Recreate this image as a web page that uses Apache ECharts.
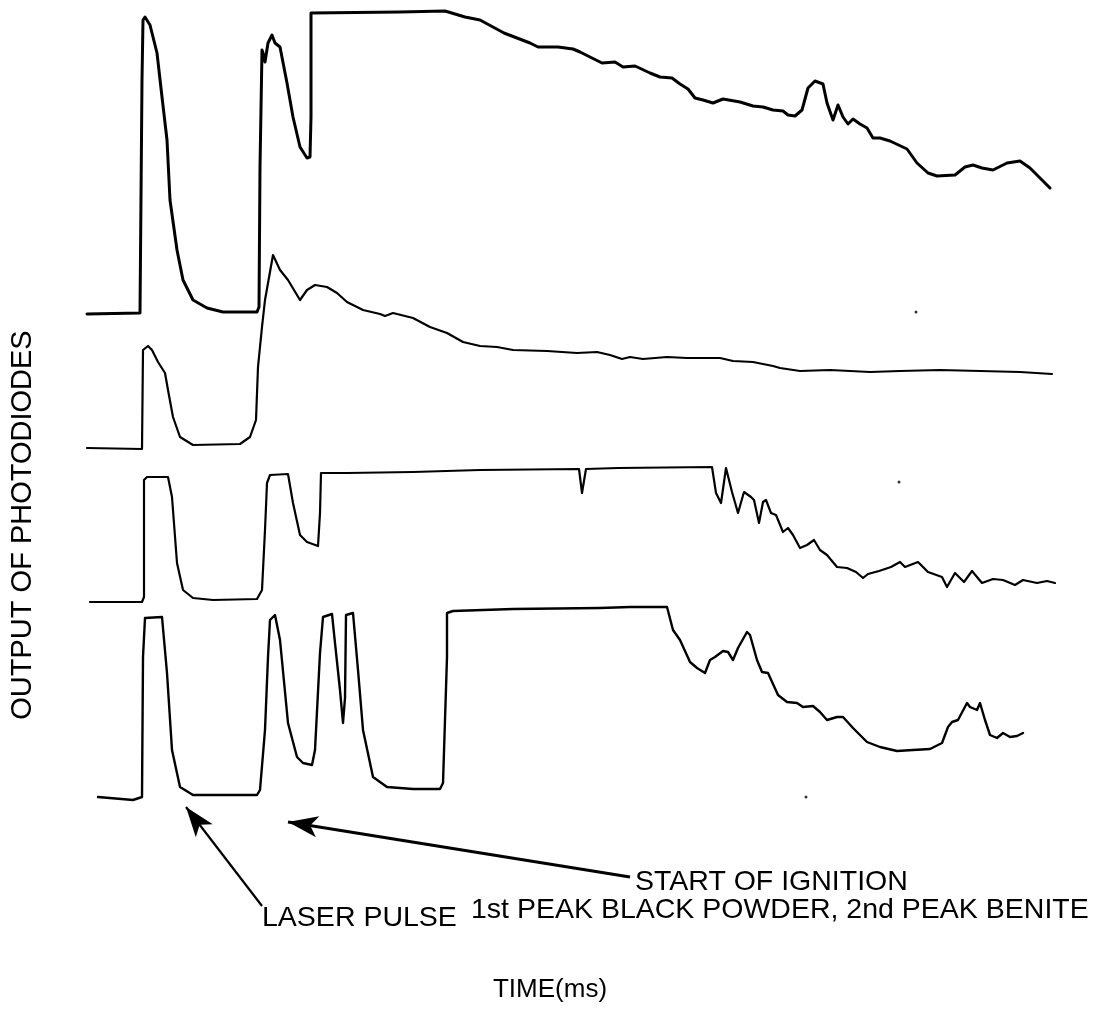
<!DOCTYPE html>
<html>
<head>
<meta charset="utf-8">
<title>Output of photodiodes</title>
<script src="https://cdn.jsdelivr.net/npm/echarts@6/dist/echarts.min.js"></script>
<style>
  html, body { margin: 0; padding: 0; background: #fff; }
  #main { width: 1099px; height: 1023px; }
</style>
</head>
<body>
<div id="main"></div>
<script>
const trace1 = [
  [7, -1], [60, 0], [62, 233], [63, 293], [65, 296], [70, 288], [72, 280], [77, 260], [82, 216],
  [87, 173], [90, 113], [97, 63], [103, 33], [113, 13], [127, 5], [143, 1], [177, 1], [179, 6],
  [180, 146], [182, 263], [183, 260], [185, 251], [188, 270], [192, 278], [195, 270], [200, 266],
  [207, 230], [213, 196], [220, 166], [227, 155], [230, 156], [231, 196], [231, 300], [320, 301],
  [365, 302], [385, 296], [400, 293], [424, 280], [450, 270], [458, 266], [478, 266], [493, 264],
  [500, 261], [510, 256], [522, 250], [535, 251], [543, 246], [555, 247], [570, 240], [580, 236],
  [592, 235], [600, 229], [608, 224], [615, 215], [623, 213], [633, 210], [643, 214], [660, 211],
  [673, 207], [683, 206], [693, 203], [703, 202], [708, 198], [715, 197], [722, 203], [728, 225],
  [735, 232], [743, 229], [747, 210], [753, 193], [758, 208], [763, 196], [768, 189], [773, 194],
  [780, 189], [787, 185], [793, 175], [800, 175], [810, 172], [827, 164], [837, 150], [848, 140],
  [857, 137], [875, 138], [885, 146], [893, 148], [902, 145], [913, 143], [927, 150], [940, 152],
  [950, 145], [960, 135], [970, 125]
];
const trace2 = [
  [7, 0], [62, -1], [63, 98], [68, 102], [72, 98], [78, 86], [85, 75], [88, 58], [93, 31],
  [100, 11], [113, 3], [160, 4], [170, 11], [176, 28], [178, 81], [182, 121], [185, 148],
  [193, 193], [200, 178], [208, 168], [220, 148], [227, 158], [235, 163], [247, 161], [257, 155],
  [267, 146], [283, 138], [300, 134], [305, 132], [313, 135], [333, 130], [350, 121], [367, 115],
  [383, 106], [400, 102], [417, 101], [433, 98], [467, 97], [497, 95], [517, 96], [530, 93],
  [542, 89], [550, 91], [563, 89], [587, 91], [607, 90], [640, 90], [653, 87], [673, 86],
  [693, 82], [700, 80], [720, 77], [750, 78], [790, 76], [820, 77], [860, 78], [900, 77],
  [940, 76], [972, 74]
];
const trace3 = [
  [10, -1], [62, -1], [64, 4], [64, 121], [67, 124], [88, 124], [92, 104], [97, 38], [103, 11],
  [113, 3], [133, 1], [177, 2], [182, 11], [185, 71], [187, 118], [190, 126], [208, 127],
  [213, 98], [220, 66], [227, 59], [238, 55], [240, 88], [241, 128], [267, 128], [333, 129],
  [400, 131], [499, 132], [502, 108], [506, 132], [538, 133], [632, 134], [636, 108], [641, 98],
  [646, 133], [652, 109], [658, 88], [664, 109], [671, 104], [674, 101], [679, 78], [683, 99],
  [686, 101], [691, 88], [696, 86], [703, 69], [708, 73], [713, 66], [720, 53], [727, 56],
  [734, 61], [740, 51], [747, 46], [757, 34], [767, 33], [776, 29], [783, 23], [788, 27],
  [799, 30], [811, 34], [820, 39], [825, 34], [838, 39], [848, 29], [862, 24], [867, 14],
  [875, 28], [884, 19], [892, 30], [902, 18], [913, 22], [923, 21], [935, 16], [943, 21],
  [957, 18], [967, 20], [975, 18]
];
const trace4 = [
  [18, 1], [53, -2], [62, 1], [63, 141], [65, 180], [82, 181], [87, 125], [92, 48], [100, 11],
  [113, 3], [177, 3], [180, 8], [185, 68], [188, 141], [190, 178], [195, 183], [200, 158],
  [208, 75], [217, 41], [223, 35], [232, 33], [235, 48], [240, 145], [243, 181], [252, 184],
  [255, 155], [260, 108], [263, 75], [265, 100], [266, 183], [273, 185], [278, 128], [283, 68],
  [293, 21], [307, 11], [320, 10], [333, 9], [360, 9], [363, 15], [367, 141], [367, 185],
  [373, 187], [433, 189], [520, 190], [550, 191], [587, 191], [593, 168], [600, 158], [610, 136],
  [617, 130], [625, 125], [630, 138], [635, 141], [643, 147], [648, 146], [653, 138], [658, 150],
  [667, 166], [670, 163], [677, 138], [682, 126], [688, 125], [698, 103], [707, 96], [717, 95],
  [723, 91], [733, 92], [740, 86], [747, 78], [757, 81], [763, 81], [773, 70], [787, 56],
  [800, 51], [817, 47], [833, 48], [850, 49], [862, 55], [868, 71], [872, 76], [878, 78],
  [887, 95], [890, 91], [897, 88], [900, 95], [905, 78], [910, 63], [917, 60], [923, 65],
  [930, 61], [937, 62], [943, 65]
];
// specks left on the original record
const specks = [[836, 498], [819, 328], [726, 13]];
// annotation arrows: [tail, tip]
const laserArrow = [[182, -96], [106, 3]];
const ignitionArrow = [[550, -67], [208, -12]];

const traces = [trace1, trace2, trace3, trace4];
const baseLevels = [497, 362, 209, 12];  // vertical stacking of the four traces
const lineWidths = [3, 2.2, 2.2, 2.4];

const chart = echarts.init(document.getElementById('main'));

const series = traces.map((tr, i) => ({
  type: 'line',
  data: tr.map(p => [p[0], p[1] + baseLevels[i]]),
  showSymbol: false,
  smooth: false,
  clip: false,
  silent: true,
  lineStyle: { color: '#000', width: lineWidths[i], cap: 'round', join: 'round' }
}));

series.push({
  type: 'scatter',
  data: specks,
  symbolSize: 3,
  silent: true,
  itemStyle: { color: '#000' },
  markLine: {
    silent: true,
    symbol: ['none', 'arrow'],
    symbolSize: [16, 30],
    label: { show: false },
    lineStyle: { color: '#000', type: 'solid' },
    data: [
      [{ coord: laserArrow[0], lineStyle: { width: 2.2 } }, { coord: laserArrow[1] }],
      [{ coord: ignitionArrow[0], lineStyle: { width: 3.2 } }, { coord: ignitionArrow[1] }]
    ]
  }
});

const fontFamily = '"Liberation Sans", Arial, Helvetica, sans-serif';
const noteFont = '28.5px ' + fontFamily;

chart.setOption({
  animation: false,
  backgroundColor: '#fff',
  grid: { left: 80, top: 10, width: 980, height: 1000 },
  xAxis: { type: 'value', min: 0, max: 980, show: false },
  yAxis: { type: 'value', min: -200, max: 800, show: false },
  series: series,
  graphic: [
    { type: 'text', x: 23, y: 525, rotation: Math.PI / 2,
      style: { text: 'OUTPUT OF PHOTODIODES', font: '29px ' + fontFamily, fill: '#000', align: 'center', verticalAlign: 'middle' } },
    { type: 'text', x: 550, y: 990,
      style: { text: 'TIME(ms)', font: '26px ' + fontFamily, fill: '#000', align: 'center', verticalAlign: 'middle' } },
    { type: 'text', x: 262, y: 918,
      style: { text: 'LASER PULSE', font: noteFont, fill: '#000', align: 'left', verticalAlign: 'middle' } },
    { type: 'text', x: 635, y: 882,
      style: { text: 'START OF IGNITION', font: noteFont, fill: '#000', align: 'left', verticalAlign: 'middle' } },
    { type: 'text', x: 471, y: 910,
      style: { text: '1st PEAK BLACK POWDER, 2nd PEAK BENITE', font: noteFont, fill: '#000', align: 'left', verticalAlign: 'middle' } }
  ]
});
</script>
</body>
</html>
